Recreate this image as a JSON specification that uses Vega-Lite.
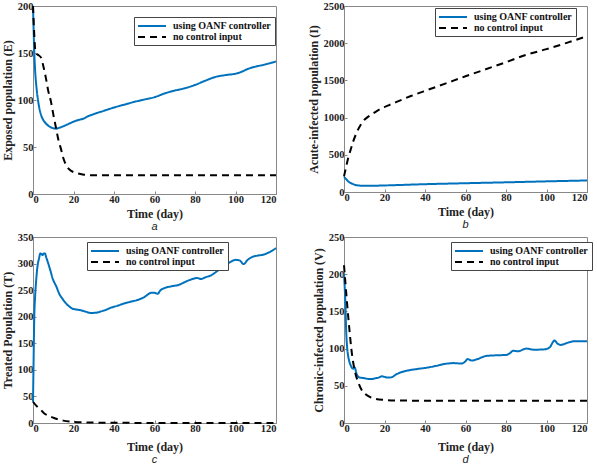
{
  "$schema": "https://vega.github.io/schema/vega-lite/v6.json",
  "padding": {"left": 0, "top": 0, "right": 0, "bottom": 0},
  "background": "white",
  "config": {
    "font": "Liberation Serif",
    "view": {"stroke": "#888", "strokeWidth": 1},
    "axis": {
      "labelFontWeight": "bold", "labelFontSize": 10.5, "labelColor": "#222",
      "titleFontWeight": "bold", "titleFontSize": 12, "titleColor": "#222",
      "grid": false, "domainColor": "#888", "tickColor": "#888", "tickSize": -3, "labelPadding": 3
    },
    "axisY": {"titlePadding": 3},
    "legend": {
      "labelFontWeight": "bold", "labelFontSize": 10, "labelColor": "#111",
      "symbolType": "M-2.8,0H2.8", "symbolSize": 100, "symbolStrokeWidth": 2, "symbolOffset": 9,
      "strokeColor": "#444", "fillColor": "white", "padding": 3, "rowPadding": -8, "labelOffset": 15, "cornerRadius": 0
    },
    "title": {"font": "Liberation Sans", "fontStyle": "italic", "fontWeight": "normal", "fontSize": 11, "color": "#222", "orient": "bottom", "frame": "group", "offset": 1}
  },
  "datasets": {
    "a": [
      {"t": 0, "v": 200, "s": "using OANF controller"},
      {"t": 0.3, "v": 175, "s": "using OANF controller"},
      {"t": 0.65, "v": 150, "s": "using OANF controller"},
      {"t": 1, "v": 133, "s": "using OANF controller"},
      {"t": 1.6, "v": 116, "s": "using OANF controller"},
      {"t": 2.6, "v": 98, "s": "using OANF controller"},
      {"t": 4, "v": 84, "s": "using OANF controller"},
      {"t": 5, "v": 79, "s": "using OANF controller"},
      {"t": 6.4, "v": 75, "s": "using OANF controller"},
      {"t": 8, "v": 72, "s": "using OANF controller"},
      {"t": 10, "v": 70, "s": "using OANF controller"},
      {"t": 11.4, "v": 69.5, "s": "using OANF controller"},
      {"t": 13, "v": 70.5, "s": "using OANF controller"},
      {"t": 16, "v": 73, "s": "using OANF controller"},
      {"t": 19, "v": 76, "s": "using OANF controller"},
      {"t": 22, "v": 78.5, "s": "using OANF controller"},
      {"t": 24.7, "v": 80, "s": "using OANF controller"},
      {"t": 27, "v": 82.5, "s": "using OANF controller"},
      {"t": 30, "v": 85, "s": "using OANF controller"},
      {"t": 35, "v": 88.5, "s": "using OANF controller"},
      {"t": 40, "v": 92, "s": "using OANF controller"},
      {"t": 45, "v": 95, "s": "using OANF controller"},
      {"t": 50, "v": 98, "s": "using OANF controller"},
      {"t": 55, "v": 100.5, "s": "using OANF controller"},
      {"t": 60, "v": 103, "s": "using OANF controller"},
      {"t": 65, "v": 107, "s": "using OANF controller"},
      {"t": 70, "v": 110, "s": "using OANF controller"},
      {"t": 75, "v": 112.5, "s": "using OANF controller"},
      {"t": 80, "v": 116, "s": "using OANF controller"},
      {"t": 85, "v": 120.5, "s": "using OANF controller"},
      {"t": 90, "v": 124.5, "s": "using OANF controller"},
      {"t": 95, "v": 126.5, "s": "using OANF controller"},
      {"t": 100, "v": 128, "s": "using OANF controller"},
      {"t": 103, "v": 130, "s": "using OANF controller"},
      {"t": 106, "v": 133, "s": "using OANF controller"},
      {"t": 110, "v": 135.5, "s": "using OANF controller"},
      {"t": 115, "v": 138, "s": "using OANF controller"},
      {"t": 120, "v": 141, "s": "using OANF controller"},
      {"t": 0, "v": 200, "s": "no control input"},
      {"t": 0.5, "v": 175, "s": "no control input"},
      {"t": 1.3, "v": 150, "s": "no control input"},
      {"t": 2.5, "v": 148, "s": "no control input"},
      {"t": 4, "v": 145, "s": "no control input"},
      {"t": 5, "v": 137, "s": "no control input"},
      {"t": 6.4, "v": 123, "s": "no control input"},
      {"t": 7.5, "v": 110, "s": "no control input"},
      {"t": 8.9, "v": 98, "s": "no control input"},
      {"t": 10, "v": 85, "s": "no control input"},
      {"t": 11.4, "v": 70, "s": "no control input"},
      {"t": 12.5, "v": 58, "s": "no control input"},
      {"t": 13.8, "v": 48, "s": "no control input"},
      {"t": 15, "v": 38, "s": "no control input"},
      {"t": 16.3, "v": 31, "s": "no control input"},
      {"t": 18, "v": 26, "s": "no control input"},
      {"t": 20.4, "v": 23, "s": "no control input"},
      {"t": 23, "v": 21.5, "s": "no control input"},
      {"t": 25.3, "v": 20.5, "s": "no control input"},
      {"t": 30, "v": 20, "s": "no control input"},
      {"t": 60, "v": 20, "s": "no control input"},
      {"t": 90, "v": 20, "s": "no control input"},
      {"t": 120, "v": 20, "s": "no control input"}
    ],
    "b": [
      {"t": 0, "v": 200, "s": "using OANF controller"},
      {"t": 1, "v": 175, "s": "using OANF controller"},
      {"t": 2, "v": 145, "s": "using OANF controller"},
      {"t": 3.5, "v": 118, "s": "using OANF controller"},
      {"t": 4.6, "v": 105, "s": "using OANF controller"},
      {"t": 6, "v": 92, "s": "using OANF controller"},
      {"t": 8.7, "v": 85, "s": "using OANF controller"},
      {"t": 13.7, "v": 84, "s": "using OANF controller"},
      {"t": 20, "v": 88, "s": "using OANF controller"},
      {"t": 25, "v": 92, "s": "using OANF controller"},
      {"t": 40, "v": 105, "s": "using OANF controller"},
      {"t": 60, "v": 118, "s": "using OANF controller"},
      {"t": 80, "v": 130, "s": "using OANF controller"},
      {"t": 100, "v": 143, "s": "using OANF controller"},
      {"t": 120, "v": 155, "s": "using OANF controller"},
      {"t": 0, "v": 210, "s": "no control input"},
      {"t": 1, "v": 330, "s": "no control input"},
      {"t": 2.1, "v": 459, "s": "no control input"},
      {"t": 3.3, "v": 570, "s": "no control input"},
      {"t": 4.6, "v": 683, "s": "no control input"},
      {"t": 5.8, "v": 770, "s": "no control input"},
      {"t": 7, "v": 841, "s": "no control input"},
      {"t": 8.2, "v": 900, "s": "no control input"},
      {"t": 9.5, "v": 953, "s": "no control input"},
      {"t": 11.5, "v": 1003, "s": "no control input"},
      {"t": 13.7, "v": 1043, "s": "no control input"},
      {"t": 16, "v": 1085, "s": "no control input"},
      {"t": 18.6, "v": 1124, "s": "no control input"},
      {"t": 22, "v": 1165, "s": "no control input"},
      {"t": 25, "v": 1200, "s": "no control input"},
      {"t": 33, "v": 1290, "s": "no control input"},
      {"t": 41.6, "v": 1375, "s": "no control input"},
      {"t": 50, "v": 1457, "s": "no control input"},
      {"t": 60, "v": 1555, "s": "no control input"},
      {"t": 70, "v": 1650, "s": "no control input"},
      {"t": 80, "v": 1745, "s": "no control input"},
      {"t": 90, "v": 1845, "s": "no control input"},
      {"t": 100, "v": 1920, "s": "no control input"},
      {"t": 110, "v": 2005, "s": "no control input"},
      {"t": 120, "v": 2095, "s": "no control input"}
    ],
    "c": [
      {"t": 0, "v": 40, "s": "using OANF controller"},
      {"t": 0.3, "v": 120, "s": "using OANF controller"},
      {"t": 0.65, "v": 203, "s": "using OANF controller"},
      {"t": 1, "v": 235, "s": "using OANF controller"},
      {"t": 1.5, "v": 265, "s": "using OANF controller"},
      {"t": 2.3, "v": 297, "s": "using OANF controller"},
      {"t": 3, "v": 310, "s": "using OANF controller"},
      {"t": 3.6, "v": 319, "s": "using OANF controller"},
      {"t": 4.2, "v": 318, "s": "using OANF controller"},
      {"t": 4.7, "v": 316, "s": "using OANF controller"},
      {"t": 5.3, "v": 319, "s": "using OANF controller"},
      {"t": 5.9, "v": 319, "s": "using OANF controller"},
      {"t": 6.5, "v": 312, "s": "using OANF controller"},
      {"t": 7.3, "v": 303, "s": "using OANF controller"},
      {"t": 8.5, "v": 288, "s": "using OANF controller"},
      {"t": 9.7, "v": 272, "s": "using OANF controller"},
      {"t": 11.5, "v": 257, "s": "using OANF controller"},
      {"t": 13, "v": 243, "s": "using OANF controller"},
      {"t": 14.5, "v": 234, "s": "using OANF controller"},
      {"t": 16.3, "v": 225, "s": "using OANF controller"},
      {"t": 18, "v": 219, "s": "using OANF controller"},
      {"t": 19.6, "v": 215, "s": "using OANF controller"},
      {"t": 21.5, "v": 213.5, "s": "using OANF controller"},
      {"t": 23.7, "v": 212, "s": "using OANF controller"},
      {"t": 26, "v": 209.5, "s": "using OANF controller"},
      {"t": 28.6, "v": 207, "s": "using OANF controller"},
      {"t": 31, "v": 207.5, "s": "using OANF controller"},
      {"t": 33.6, "v": 210, "s": "using OANF controller"},
      {"t": 36, "v": 213, "s": "using OANF controller"},
      {"t": 38.5, "v": 217, "s": "using OANF controller"},
      {"t": 42, "v": 221, "s": "using OANF controller"},
      {"t": 45, "v": 225, "s": "using OANF controller"},
      {"t": 48, "v": 228, "s": "using OANF controller"},
      {"t": 52, "v": 232, "s": "using OANF controller"},
      {"t": 55, "v": 237, "s": "using OANF controller"},
      {"t": 58.4, "v": 245, "s": "using OANF controller"},
      {"t": 60, "v": 245, "s": "using OANF controller"},
      {"t": 61.5, "v": 243, "s": "using OANF controller"},
      {"t": 63, "v": 250, "s": "using OANF controller"},
      {"t": 65, "v": 254, "s": "using OANF controller"},
      {"t": 68, "v": 257, "s": "using OANF controller"},
      {"t": 72, "v": 260, "s": "using OANF controller"},
      {"t": 76, "v": 267, "s": "using OANF controller"},
      {"t": 79.7, "v": 272, "s": "using OANF controller"},
      {"t": 81, "v": 273, "s": "using OANF controller"},
      {"t": 83, "v": 271, "s": "using OANF controller"},
      {"t": 85, "v": 274, "s": "using OANF controller"},
      {"t": 88, "v": 278, "s": "using OANF controller"},
      {"t": 91, "v": 286, "s": "using OANF controller"},
      {"t": 94, "v": 295, "s": "using OANF controller"},
      {"t": 97, "v": 302, "s": "using OANF controller"},
      {"t": 100, "v": 307, "s": "using OANF controller"},
      {"t": 102, "v": 306, "s": "using OANF controller"},
      {"t": 104, "v": 299, "s": "using OANF controller"},
      {"t": 106, "v": 307, "s": "using OANF controller"},
      {"t": 108, "v": 312, "s": "using OANF controller"},
      {"t": 111, "v": 315, "s": "using OANF controller"},
      {"t": 114, "v": 317, "s": "using OANF controller"},
      {"t": 117, "v": 322, "s": "using OANF controller"},
      {"t": 120, "v": 329, "s": "using OANF controller"},
      {"t": 0, "v": 40, "s": "no control input"},
      {"t": 2, "v": 31, "s": "no control input"},
      {"t": 3.3, "v": 27, "s": "no control input"},
      {"t": 5.6, "v": 18, "s": "no control input"},
      {"t": 8, "v": 13, "s": "no control input"},
      {"t": 10, "v": 10, "s": "no control input"},
      {"t": 12.2, "v": 7, "s": "no control input"},
      {"t": 15, "v": 4.5, "s": "no control input"},
      {"t": 18.8, "v": 2.5, "s": "no control input"},
      {"t": 22, "v": 1.5, "s": "no control input"},
      {"t": 30, "v": 0.7, "s": "no control input"},
      {"t": 40, "v": 0.3, "s": "no control input"},
      {"t": 60, "v": 0.2, "s": "no control input"},
      {"t": 120, "v": 0.2, "s": "no control input"}
    ],
    "d": [
      {"t": 0, "v": 201, "s": "using OANF controller"},
      {"t": 0.3, "v": 185, "s": "using OANF controller"},
      {"t": 0.6, "v": 167, "s": "using OANF controller"},
      {"t": 1.1, "v": 122, "s": "using OANF controller"},
      {"t": 1.5, "v": 103, "s": "using OANF controller"},
      {"t": 2, "v": 91, "s": "using OANF controller"},
      {"t": 2.6, "v": 83, "s": "using OANF controller"},
      {"t": 3.3, "v": 77.5, "s": "using OANF controller"},
      {"t": 4.5, "v": 73, "s": "using OANF controller"},
      {"t": 5.3, "v": 74.5, "s": "using OANF controller"},
      {"t": 6.2, "v": 66, "s": "using OANF controller"},
      {"t": 7.8, "v": 61, "s": "using OANF controller"},
      {"t": 9.5, "v": 60.5, "s": "using OANF controller"},
      {"t": 11.2, "v": 59.6, "s": "using OANF controller"},
      {"t": 13.5, "v": 59, "s": "using OANF controller"},
      {"t": 15.3, "v": 60, "s": "using OANF controller"},
      {"t": 17, "v": 61, "s": "using OANF controller"},
      {"t": 18.6, "v": 62.7, "s": "using OANF controller"},
      {"t": 20, "v": 62, "s": "using OANF controller"},
      {"t": 22, "v": 61, "s": "using OANF controller"},
      {"t": 24, "v": 62, "s": "using OANF controller"},
      {"t": 25.3, "v": 64.5, "s": "using OANF controller"},
      {"t": 28, "v": 68, "s": "using OANF controller"},
      {"t": 32, "v": 70.8, "s": "using OANF controller"},
      {"t": 36, "v": 72.5, "s": "using OANF controller"},
      {"t": 40, "v": 74, "s": "using OANF controller"},
      {"t": 45, "v": 76.5, "s": "using OANF controller"},
      {"t": 50, "v": 79.5, "s": "using OANF controller"},
      {"t": 54, "v": 80.5, "s": "using OANF controller"},
      {"t": 58, "v": 80, "s": "using OANF controller"},
      {"t": 60, "v": 83, "s": "using OANF controller"},
      {"t": 61, "v": 86, "s": "using OANF controller"},
      {"t": 63, "v": 84, "s": "using OANF controller"},
      {"t": 66, "v": 86, "s": "using OANF controller"},
      {"t": 70, "v": 90, "s": "using OANF controller"},
      {"t": 75, "v": 91, "s": "using OANF controller"},
      {"t": 80, "v": 91.5, "s": "using OANF controller"},
      {"t": 82, "v": 94, "s": "using OANF controller"},
      {"t": 83.5, "v": 97, "s": "using OANF controller"},
      {"t": 86, "v": 96.5, "s": "using OANF controller"},
      {"t": 90, "v": 100, "s": "using OANF controller"},
      {"t": 94, "v": 98.5, "s": "using OANF controller"},
      {"t": 99, "v": 99, "s": "using OANF controller"},
      {"t": 101.7, "v": 102, "s": "using OANF controller"},
      {"t": 103, "v": 108, "s": "using OANF controller"},
      {"t": 104, "v": 111, "s": "using OANF controller"},
      {"t": 105.3, "v": 107, "s": "using OANF controller"},
      {"t": 107, "v": 105, "s": "using OANF controller"},
      {"t": 110, "v": 107.5, "s": "using OANF controller"},
      {"t": 114, "v": 110, "s": "using OANF controller"},
      {"t": 120, "v": 110, "s": "using OANF controller"},
      {"t": 0, "v": 212, "s": "no control input"},
      {"t": 0.8, "v": 185, "s": "no control input"},
      {"t": 1.6, "v": 158, "s": "no control input"},
      {"t": 2.8, "v": 122, "s": "no control input"},
      {"t": 3.6, "v": 100, "s": "no control input"},
      {"t": 4.5, "v": 82, "s": "no control input"},
      {"t": 5.7, "v": 66, "s": "no control input"},
      {"t": 7, "v": 55, "s": "no control input"},
      {"t": 8.6, "v": 45, "s": "no control input"},
      {"t": 10.3, "v": 39.4, "s": "no control input"},
      {"t": 12.7, "v": 35, "s": "no control input"},
      {"t": 15.3, "v": 32.7, "s": "no control input"},
      {"t": 20, "v": 31, "s": "no control input"},
      {"t": 25, "v": 30.3, "s": "no control input"},
      {"t": 40, "v": 30, "s": "no control input"},
      {"t": 120, "v": 30, "s": "no control input"}
    ]
  },
  "columns": 2,
  "spacing": {"row": -1, "column": 25},
  "resolve": {
    "scale": {"x": "independent", "y": "independent", "color": "independent", "strokeDash": "independent"},
    "legend": {"color": "independent", "strokeDash": "independent"}
  },
  "concat": [
    {
      "width": 243, "height": 188,
      "data": {"name": "a"},
      "title": {"text": "a"},
      "mark": {"type": "line", "interpolate": "monotone", "strokeWidth": 2},
      "encoding": {
        "x": {"field": "t", "type": "quantitative", "scale": {"domain": [0, 120], "nice": false}, "axis": {"title": "Time (day)", "values": [0, 20, 40, 60, 80, 100, 120]}},
        "y": {"field": "v", "type": "quantitative", "scale": {"domain": [0, 200], "nice": false}, "axis": {"title": "Exposed population (E)", "values": [0, 50, 100, 150, 200]}},
        "color": {"field": "s", "type": "nominal", "sort": ["using OANF controller", "no control input"], "scale": {"domain": ["using OANF controller", "no control input"], "range": ["#0072BD", "#000000"]}, "legend": {"title": null, "orient": "none", "legendX": 101, "legendY": 11}},
        "strokeDash": {"field": "s", "type": "nominal", "sort": ["using OANF controller", "no control input"], "scale": {"domain": ["using OANF controller", "no control input"], "range": [[1, 0], [7, 5]]}, "legend": {"title": null, "orient": "none", "legendX": 101, "legendY": 11}}
      }
    },
    {
      "width": 243, "height": 186,
      "data": {"name": "b"},
      "title": {"text": "b"},
      "mark": {"type": "line", "interpolate": "monotone", "strokeWidth": 2},
      "encoding": {
        "x": {"field": "t", "type": "quantitative", "scale": {"domain": [0, 120], "nice": false}, "axis": {"title": "Time (day)", "values": [0, 20, 40, 60, 80, 100, 120]}},
        "y": {"field": "v", "type": "quantitative", "scale": {"domain": [0, 2500], "nice": false}, "axis": {"title": "Acute-infected population (I)", "values": [0, 500, 1000, 1500, 2000, 2500], "format": "d"}},
        "color": {"field": "s", "type": "nominal", "sort": ["using OANF controller", "no control input"], "scale": {"domain": ["using OANF controller", "no control input"], "range": ["#0072BD", "#000000"]}, "legend": {"title": null, "orient": "none", "legendX": 91, "legendY": 2}},
        "strokeDash": {"field": "s", "type": "nominal", "sort": ["using OANF controller", "no control input"], "scale": {"domain": ["using OANF controller", "no control input"], "range": [[1, 0], [7, 5]]}, "legend": {"title": null, "orient": "none", "legendX": 91, "legendY": 2}}
      }
    },
    {
      "width": 243, "height": 186,
      "data": {"name": "c"},
      "title": {"text": "c"},
      "mark": {"type": "line", "interpolate": "monotone", "strokeWidth": 2},
      "encoding": {
        "x": {"field": "t", "type": "quantitative", "scale": {"domain": [0, 120], "nice": false}, "axis": {"title": "Time (day)", "titlePadding": 8, "values": [0, 20, 40, 60, 80, 100, 120]}},
        "y": {"field": "v", "type": "quantitative", "scale": {"domain": [0, 350], "nice": false}, "axis": {"title": "Treated Population (T)", "values": [0, 50, 100, 150, 200, 250, 300, 350]}},
        "color": {"field": "s", "type": "nominal", "sort": ["using OANF controller", "no control input"], "scale": {"domain": ["using OANF controller", "no control input"], "range": ["#0072BD", "#000000"]}, "legend": {"title": null, "orient": "none", "legendX": 54, "legendY": 5}},
        "strokeDash": {"field": "s", "type": "nominal", "sort": ["using OANF controller", "no control input"], "scale": {"domain": ["using OANF controller", "no control input"], "range": [[1, 0], [7, 5]]}, "legend": {"title": null, "orient": "none", "legendX": 54, "legendY": 5}}
      }
    },
    {
      "width": 243, "height": 186,
      "data": {"name": "d"},
      "title": {"text": "d"},
      "mark": {"type": "line", "interpolate": "monotone", "strokeWidth": 2},
      "encoding": {
        "x": {"field": "t", "type": "quantitative", "scale": {"domain": [0, 120], "nice": false}, "axis": {"title": "Time (day)", "titlePadding": 8, "values": [0, 20, 40, 60, 80, 100, 120]}},
        "y": {"field": "v", "type": "quantitative", "scale": {"domain": [0, 250], "nice": false}, "axis": {"title": "Chronic-infected population (V)", "values": [0, 50, 100, 150, 200, 250]}},
        "color": {"field": "s", "type": "nominal", "sort": ["using OANF controller", "no control input"], "scale": {"domain": ["using OANF controller", "no control input"], "range": ["#0072BD", "#000000"]}, "legend": {"title": null, "orient": "none", "legendX": 107, "legendY": 5}},
        "strokeDash": {"field": "s", "type": "nominal", "sort": ["using OANF controller", "no control input"], "scale": {"domain": ["using OANF controller", "no control input"], "range": [[1, 0], [7, 5]]}, "legend": {"title": null, "orient": "none", "legendX": 107, "legendY": 5}}
      }
    }
  ]
}
